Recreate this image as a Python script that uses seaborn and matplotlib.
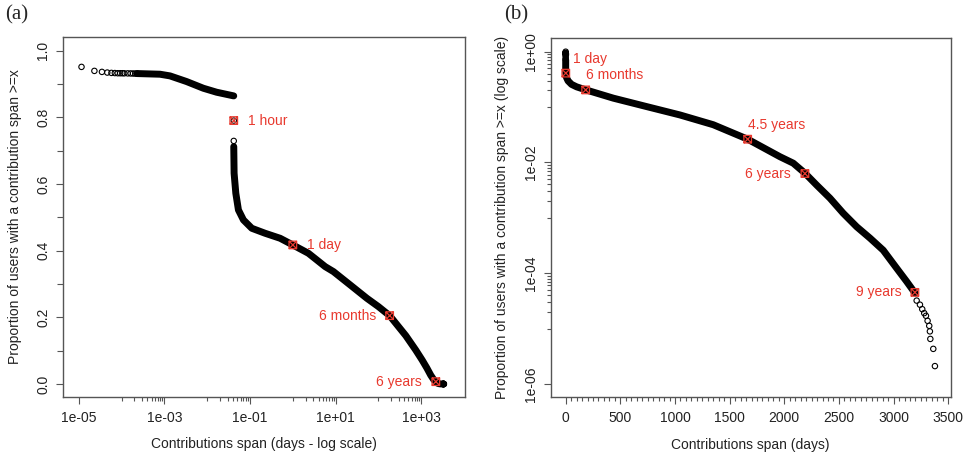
import matplotlib
matplotlib.use('Agg')
import matplotlib.pyplot as plt
from matplotlib.path import Path
from matplotlib.ticker import NullFormatter
import pandas as pd
import seaborn as sns

sns.set_style('ticks')
plt.rcParams['font.family'] = ['Liberation Sans', 'DejaVu Sans']

RED = '#e8392e'
GREY = '#555555'

# dense part of the curve before the 1 hour step (span in days, proportion >= span)
early_span = [2.3e-4, 7.9e-4, 1.35e-3, 3.3e-3, 8.1e-3, 0.0166, 0.04165]
early_prop = [0.931, 0.929, 0.924, 0.907, 0.887, 0.875, 0.864]

# dense part after 1 hour
late_span = [0.04169, 0.04246, 0.04656, 0.05358, 0.0701, 0.110, 0.2254, 0.505,
             1.0, 2.31, 3.63, 5.69, 8.9, 21.9, 53.7, 100, 182.5, 435, 741,
             1046, 1350, 1665, 1960, 2082, 2189, 2296, 2418, 2539, 2662,
             2784, 2905, 3028, 3119, 3195]
late_prop = [0.712, 0.632, 0.572, 0.522, 0.492, 0.467, 0.452, 0.437,
             0.417, 0.392, 0.372, 0.352, 0.337, 0.297, 0.257, 0.232, 0.205,
             0.145, 0.102, 0.072, 0.048, 0.0263, 0.0127, 0.0097, 0.0064,
             0.0039, 0.00226, 0.00121, 0.00069, 0.00043, 0.00026, 0.000123,
             7.1e-5, 4.4e-5]

# isolated points: zero span, the first seconds, the 1 hour step, the long tail
start_sec = [1, 2, 3, 4, 5, 6, 7, 8, 9, 10, 12, 14, 16, 18, 20]
start_prop = [0.951, 0.939, 0.936, 0.934, 0.933, 0.9325, 0.932, 0.932, 0.932,
              0.9318, 0.9316, 0.9314, 0.9312, 0.931, 0.931]
hour_span = [0.041667, 0.04168]
hour_prop = [0.790, 0.729]
tail_span = [3211, 3241, 3262, 3280, 3296, 3311, 3326, 3332, 3336, 3363, 3378]
tail_prop = [3.2e-5, 2.7e-5, 2.24e-5, 1.9e-5, 1.7e-5, 1.38e-5, 1.12e-5,
             8.9e-6, 6.5e-6, 4.3e-6, 2.1e-6]

# labelled milestones
marks_a_label = ['1 hour', '1 day', '6 months', '6 years']
marks_a_span = [1 / 24, 1, 182.5, 2190]
marks_a_prop = [0.790, 0.417, 0.205, 0.007]
marks_b_label = ['1 day', '6 months', '4.5 years', '6 years', '9 years']
marks_b_span = [1, 183, 1665, 2189, 3195]
marks_b_prop = [0.41, 0.204, 0.0263, 0.0063, 4.5e-5]

curve = pd.DataFrame({
    'span': early_span + late_span,
    'prop': early_prop + late_prop,
    'segment': ['early'] * len(early_span) + ['late'] * len(late_span),
})
points = pd.DataFrame({
    'span': [0.0] + [s / 86400 for s in start_sec] + hour_span + tail_span,
    'prop': [1.0] + start_prop + hour_prop + tail_prop,
})
marks_a = pd.DataFrame({'span': marks_a_span, 'prop': marks_a_prop, 'label': marks_a_label})
marks_b = pd.DataFrame({'span': marks_b_span, 'prop': marks_b_prop, 'label': marks_b_label})

# square with a cross, like R's pch = 7
boxx = Path([(-1, -1), (1, -1), (1, 1), (-1, 1), (-1, -1), (-1, -1), (1, 1), (-1, 1), (1, -1)],
            [Path.MOVETO, Path.LINETO, Path.LINETO, Path.LINETO, Path.CLOSEPOLY,
             Path.MOVETO, Path.LINETO, Path.MOVETO, Path.LINETO])


def draw(ax, curve, points, marks, offsets):
    sns.lineplot(data=curve, x='span', y='prop', units='segment', estimator=None,
                 sort=False, color='black', linewidth=5, solid_capstyle='round',
                 ax=ax, legend=False)
    sns.scatterplot(data=points, x='span', y='prop', marker='o', s=15,
                    facecolor='none', edgecolor='black', linewidth=0.8,
                    ax=ax, legend=False, zorder=3)
    sns.scatterplot(data=marks, x='span', y='prop', marker=boxx, s=30,
                    facecolor='none', edgecolor=RED, linewidth=0.9,
                    ax=ax, legend=False, zorder=4)
    for (_, row), (dx, dy, ha) in zip(marks.iterrows(), offsets):
        ax.annotate(row['label'], (row['span'], row['prop']), xytext=(dx, dy),
                    textcoords='offset points', ha=ha, va='center',
                    color=RED, fontsize=10)
    for side in ax.spines.values():
        side.set_color(GREY)
        side.set_linewidth(1)
    ax.tick_params(which='both', direction='out', color=GREY, labelcolor='#222222',
                   labelsize=10, width=0.8)
    ax.tick_params(which='major', length=5)
    ax.tick_params(axis='x', which='major', pad=5)
    ax.tick_params(axis='y', which='major', pad=4, labelrotation=90)
    for lab in ax.get_yticklabels():
        lab.set_va('center')
    ax.set_xlabel(ax.get_xlabel(), fontsize=10, color='#222222')
    ax.set_ylabel(ax.get_ylabel(), fontsize=10, color='#222222')
    ax.grid(False)


fig = plt.figure(figsize=(9.67, 4.57), dpi=100)
ax1 = fig.add_axes([0.0651, 0.1313, 0.4157, 0.788])
ax2 = fig.add_axes([0.5695, 0.1320, 0.4136, 0.7848])

# (a): log x, linear y
ax1.set_xscale('log')
ax1.set_xlim(10 ** -5.37, 10 ** 4.02)
ax1.set_ylim(-0.039, 1.041)
ax1.set_xticks([1e-5, 1e-3, 1e-1, 1e1, 1e3], ['1e-05', '1e-03', '1e-01', '1e+01', '1e+03'])
ax1.set_xticks([m * 10.0 ** e for e in (-4, -2, 0, 2) for m in range(1, 10)], minor=True)
ax1.xaxis.set_minor_formatter(NullFormatter())
ax1.set_yticks([0.0, 0.2, 0.4, 0.6, 0.8, 1.0], ['0.0', '0.2', '0.4', '0.6', '0.8', '1.0'])
ax1.set_yticks([0.1, 0.3, 0.5, 0.7, 0.9], minor=True)
ax1.set_xlabel('Contributions span (days - log scale)')
ax1.set_ylabel('Proportion of users with a contribution span >=x')
draw(ax1, curve, points[points['span'] > 0], marks_a,
     [(10, 0, 'left'), (10, 0, 'left'), (-10, 0, 'right'), (-10.5, 0, 'right')])
ax1.tick_params(axis='y', which='minor', length=4)
ax1.tick_params(axis='x', which='minor', length=3)
ax1.xaxis.set_label_coords(0.5, -0.112)
ax1.yaxis.set_label_coords(-0.102, 0.5)

# (b): linear x, log y
ax2.set_yscale('log')
ax2.set_xlim(-137, 3522)
ax2.set_ylim(10 ** -6.23, 10 ** 0.247)
ax2.set_xticks([0, 500, 1000, 1500, 2000, 2500, 3000, 3500],
               ['0', '500', '1000', '1500', '2000', '2500', '3000', '3500'])
ax2.set_xticks([v for v in range(50, 3500, 50) if v % 500], minor=True)
ax2.set_yticks([1e0, 1e-2, 1e-4, 1e-6], ['1e+00', '1e-02', '1e-04', '1e-06'])
ax2.set_yticks([m * 10.0 ** e for e in (-1, -3, -5) for m in range(1, 10)], minor=True)
ax2.yaxis.set_minor_formatter(NullFormatter())
ax2.set_xlabel('Contributions span (days)')
ax2.set_ylabel('Proportion of users with a contribution span >=x (log scale)')
draw(ax2, curve, points, marks_b,
     [(5.5, 10, 'left'), (0, 11, 'left'), (0, 10.5, 'left'), (-10.5, 0, 'right'), (-9.5, 0, 'right')])
ax2.tick_params(which='minor', length=3)
ax2.xaxis.set_label_coords(0.5, -0.115)
ax2.yaxis.set_label_coords(-0.104, 0.5)

fig.text(17 / 967, 1 - 15 / 457, '(a)', ha='center', va='center',
         family='Liberation Serif', fontsize=15)
fig.text(516 / 967, 1 - 15 / 457, '(b)', ha='center', va='center',
         family='Liberation Serif', fontsize=15)

fig.savefig('out.png', dpi=100)
